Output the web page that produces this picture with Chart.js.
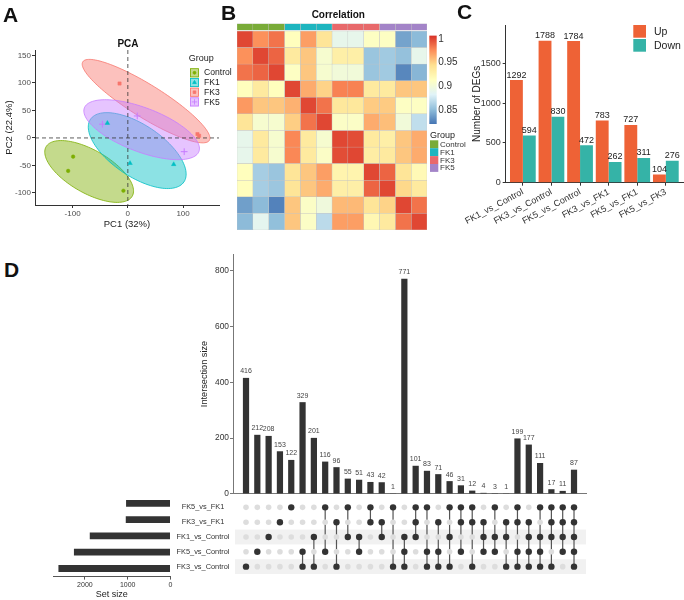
<!DOCTYPE html>
<html>
<head>
<meta charset="utf-8">
<script src="https://cdn.jsdelivr.net/npm/chart.js@4.4.1/dist/chart.umd.min.js"></script>
<style>
  body { margin: 0; background: #fff; }
  #fig { position: relative; width: 684px; height: 600px; overflow: hidden; background: #fff; }
  canvas { position: absolute; }
  .tag { position: absolute; font: bold 21px/1 'Liberation Sans', Arial, sans-serif; color: #111; }
</style>
</head>
<body>
<div id="fig">
  <canvas id="pca" width="240" height="235" style="left:0;top:0"></canvas>
  <canvas id="anno" width="190" height="31" style="left:237px;top:0"></canvas>
  <canvas id="heat" width="190" height="199" style="left:237px;top:31px"></canvas>
  <canvas id="cbar" width="50" height="150" style="left:425px;top:28px"></canvas>
  <canvas id="degs" width="229" height="240" style="left:455px;top:0"></canvas>
  <canvas id="inter" width="410" height="255" style="left:180px;top:245px"></canvas>
  <canvas id="matrix" width="420" height="90" style="left:170px;top:492px"></canvas>
  <canvas id="sets" width="140" height="108" style="left:40px;top:492px"></canvas>
  <div class="tag" style="left:3px;top:4px">A</div>
  <div class="tag" style="left:221px;top:2px">B</div>
  <div class="tag" style="left:457px;top:1px">C</div>
  <div class="tag" style="left:4px;top:259px">D</div>
</div>
<script>
// ---- panel A: PCA scores ----
const groups = ['Control', 'FK1', 'FK3', 'FK5'];
const pc1Control = [-99, -108, -8];
const pc2Control = [-34, -60, -96];
const pc1FK1 = [-37, 4, 83];
const pc2FK1 = [27, -46, -48];
const pc1FK3 = [-15, 129, 126];
const pc2FK3 = [99, 4, 7];
const pc1FK5 = [-46, 17, 102];
const pc2FK5 = [25, 40, -25];
// group ellipses in PC units: centre, semi-axes, tilt (deg)
const ellipseCx = [-70, 17, 33, 25];
const ellipseCy = [-61, -23, 67, 15];
const ellipseA = [90, 102, 135, 111];
const ellipseB = [39, 47, 30, 40];
const ellipseAngle = [-30, -34, -32, -21];

// ---- panel B: sample correlation ----
const samples = ['Control_1', 'Control_2', 'Control_3', 'FK1_1', 'FK1_2', 'FK1_3',
                 'FK3_1', 'FK3_2', 'FK3_3', 'FK5_1', 'FK5_2', 'FK5_3'];
const sampleGroup = [0, 0, 0, 1, 1, 1, 2, 2, 2, 3, 3, 3];
const corr = [
  [1.000, 0.975, 0.985, 0.915, 0.970, 0.940, 0.890, 0.890, 0.912, 0.912, 0.840, 0.850],
  [0.975, 1.000, 0.990, 0.935, 0.955, 0.905, 0.930, 0.930, 0.855, 0.858, 0.853, 0.890],
  [0.985, 0.990, 1.000, 0.912, 0.955, 0.905, 0.900, 0.900, 0.855, 0.858, 0.828, 0.848],
  [0.915, 0.935, 0.915, 1.000, 0.965, 0.950, 0.980, 0.980, 0.935, 0.935, 0.955, 0.955],
  [0.972, 0.955, 0.955, 0.963, 1.000, 0.985, 0.937, 0.937, 0.953, 0.953, 0.912, 0.912],
  [0.940, 0.905, 0.905, 0.952, 0.985, 1.000, 0.910, 0.910, 0.965, 0.958, 0.900, 0.870],
  [0.890, 0.935, 0.905, 0.978, 0.935, 0.905, 1.000, 0.998, 0.935, 0.930, 0.955, 0.965],
  [0.890, 0.935, 0.905, 0.978, 0.935, 0.910, 0.998, 1.000, 0.932, 0.935, 0.955, 0.965],
  [0.915, 0.860, 0.855, 0.940, 0.955, 0.970, 0.925, 0.925, 1.000, 0.990, 0.940, 0.920],
  [0.915, 0.860, 0.856, 0.940, 0.955, 0.965, 0.930, 0.930, 0.990, 1.000, 0.948, 0.935],
  [0.838, 0.850, 0.826, 0.955, 0.910, 0.898, 0.960, 0.960, 0.940, 0.950, 1.000, 0.985],
  [0.850, 0.888, 0.852, 0.955, 0.910, 0.868, 0.970, 0.970, 0.922, 0.935, 0.985, 1.000]
];
const corrMin = 0.8204, corrMax = 1.0076;
const corrTicks = [0.85, 0.9, 0.95, 1];

// ---- panel C: DEG counts ----
const comparisons = ['FK1_vs_Control', 'FK3_vs_Control', 'FK5_vs_Control', 'FK3_vs_FK1', 'FK5_vs_FK1', 'FK5_vs_FK3'];
const upDEGs = [1292, 1788, 1784, 783, 727, 104];
const downDEGs = [594, 830, 472, 262, 311, 276];

// ---- panel D: upset ----
const setNames = ['FK5_vs_FK1', 'FK3_vs_FK1', 'FK1_vs_Control', 'FK5_vs_Control', 'FK3_vs_Control'];
const setSizes = [1038, 1045, 1886, 2256, 2618];
const intersectionSizes = [416, 212, 208, 153, 122, 329, 201, 116, 96, 55, 51, 43, 42, 1, 771,
                           101, 83, 71, 46, 31, 12, 4, 3, 1, 199, 177, 111, 17, 11, 87];
// which sets (row index in setNames) make each intersection
const intersectionSets = [[4], [3], [2], [1], [0], [3, 4], [2, 4], [0, 3], [1, 4], [0, 2], [2, 3], [0, 1], [1, 2], [0, 4], [2, 3, 4],
  [0, 1, 2], [0, 3, 4], [1, 3, 4], [0, 2, 4], [0, 1, 3], [0, 1, 4], [1, 2, 3], [0, 2, 3], [1, 2, 4],
  [0, 1, 3, 4], [1, 2, 3, 4], [0, 2, 3, 4], [0, 1, 2, 4], [0, 1, 2, 3], [0, 1, 2, 3, 4]];

// ---------------------------------------------------------------
const FONT = "'Liberation Sans', Arial, sans-serif";
Chart.defaults.font.family = FONT;
Chart.defaults.color = '#333';

const groupColors = ['#7CAE00', '#00BFC4', '#F8766D', '#C77CFF'];
const annoColors = ['#79AB38', '#1EB5BF', '#E8696B', '#A384C8'];
const rampColors = ['#4575B4', '#91BFDB', '#E0F3F8', '#FFFFBF', '#FEE090', '#FC8D59', '#D73027'];
const upColor = '#EE6236', downColor = '#35B3A7';

function hexRgb(h) { const n = parseInt(h.slice(1), 16); return [n >> 16 & 255, n >> 8 & 255, n & 255]; }
function rgba(h, a) { return 'rgba(' + hexRgb(h).join(',') + ',' + a + ')'; }
function corrColor(v) {
  const f = Math.max(0, Math.min(1, (v - corrMin) / (corrMax - corrMin))) * 6;
  const i = Math.min(5, Math.floor(f)), t = f - i;
  const A = hexRgb(rampColors[i]), B = hexRgb(rampColors[i + 1]);
  return 'rgb(' + A.map((c, k) => Math.round(c + (B[k] - c) * t)).join(',') + ')';
}
function txt(ctx, s, x, y, font, color, align) {
  ctx.save();
  ctx.font = font; ctx.fillStyle = color || '#222';
  ctx.textAlign = align || 'left'; ctx.textBaseline = 'middle';
  ctx.fillText(s, x, y);
  ctx.restore();
}
const fixedTicks = vals => s => { s.ticks = vals.map(v => ({ value: v })); };
const plain = v => String(v);
const base = { responsive: false, animation: false, events: [],
  plugins: { legend: { display: false }, tooltip: { enabled: false } } };

// ================= A: PCA =================
const pcaX = [pc1Control, pc1FK1, pc1FK3, pc1FK5];
const pcaY = [pc2Control, pc2FK1, pc2FK3, pc2FK5];
const pointStyles = ['circle', 'triangle', 'rect', 'cross'];
const pointRadius = [1.8, 2.6, 2.3, 3.4];

const pcaDeco = {
  id: 'pcaDeco',
  beforeDatasetsDraw(chart) {
    const { ctx, chartArea: a, scales: { x, y } } = chart;
    ctx.save();
    groups.forEach((g, k) => {
      const th = ellipseAngle[k] * Math.PI / 180;
      ctx.beginPath();
      for (let t = 0; t <= 120; t++) {
        const u = t / 120 * 2 * Math.PI;
        const dx = ellipseA[k] * Math.cos(u), dy = ellipseB[k] * Math.sin(u);
        const px = x.getPixelForValue(ellipseCx[k] + dx * Math.cos(th) - dy * Math.sin(th));
        const py = y.getPixelForValue(ellipseCy[k] + dx * Math.sin(th) + dy * Math.cos(th));
        if (t) ctx.lineTo(px, py); else ctx.moveTo(px, py);
      }
      ctx.closePath();
      ctx.fillStyle = rgba(groupColors[k], 0.45);
      ctx.fill();
      ctx.strokeStyle = groupColors[k];
      ctx.lineWidth = 0.8;
      ctx.stroke();
    });
    // zero reference lines
    ctx.strokeStyle = '#333';
    ctx.lineWidth = 0.8;
    ctx.setLineDash([4, 3]);
    const x0 = x.getPixelForValue(0), y0 = y.getPixelForValue(0);
    ctx.beginPath();
    ctx.moveTo(x0, a.top); ctx.lineTo(x0, a.bottom);
    ctx.moveTo(a.left, y0); ctx.lineTo(a.right, y0);
    ctx.stroke();
    ctx.restore();
  },
  afterDraw(chart) {
    const ctx = chart.ctx;
    txt(ctx, 'PCA', 128, 44, 'bold 10px ' + FONT, '#111', 'center');
    txt(ctx, 'Group', 188.7, 59, '9px ' + FONT, '#222');
    groups.forEach((g, k) => {
      const top = 68.3 + k * 9.7;
      ctx.save();
      ctx.fillStyle = rgba(groupColors[k], 0.45);
      ctx.strokeStyle = groupColors[k];
      ctx.lineWidth = 0.8;
      ctx.fillRect(190, top, 9, 9);
      ctx.strokeRect(190.4, top + 0.4, 8.2, 8.2);
      ctx.fillStyle = groupColors[k];
      Chart.helpers.drawPoint(ctx, { pointStyle: pointStyles[k], radius: pointRadius[k] * 0.8, borderWidth: 1, rotation: 0 }, 194.5, top + 4.5);
      ctx.restore();
      txt(ctx, g, 204, top + 4.8, '8.6px ' + FONT, '#222');
    });
  }
};

new Chart(document.getElementById('pca'), {
  type: 'scatter',
  data: {
    datasets: groups.map((g, k) => ({
      label: g,
      data: pcaX[k].map((v, i) => ({ x: v, y: pcaY[k][i] })),
      pointStyle: pointStyles[k],
      pointRadius: pointRadius[k],
      backgroundColor: groupColors[k],
      borderColor: groupColors[k],
      borderWidth: k === 3 ? 1 : 0.5
    }))
  },
  options: Object.assign({}, base, {
    layout: { padding: { top: 50, right: 21 } },
    scales: {
      x: {
        type: 'linear', min: -168, max: 165,
        afterBuildTicks: fixedTicks([-100, 0, 100]),
        afterFit: s => { s.height = 30; },
        grid: { drawOnChartArea: false, tickLength: 3, color: '#333' },
        border: { color: '#333' },
        ticks: { font: { size: 8 }, color: '#4d4d4d', padding: 1, callback: plain },
        title: { display: true, text: 'PC1 (32%)', font: { size: 9.5 }, color: '#222', padding: { top: 0, bottom: 5 } }
      },
      y: {
        type: 'linear', min: -122, max: 160,
        afterBuildTicks: fixedTicks([-100, -50, 0, 50, 100, 150]),
        afterFit: s => { s.width = 35; },
        grid: { drawOnChartArea: false, tickLength: 3, color: '#333' },
        border: { color: '#333' },
        ticks: { font: { size: 8 }, color: '#4d4d4d', padding: 1, callback: plain },
        title: { display: true, text: 'PC2 (22.4%)', font: { size: 9.5 }, color: '#222', padding: { top: 4, bottom: 0 } }
      }
    }
  }),
  plugins: [pcaDeco]
});

// ================= B: correlation heatmap =================
new Chart(document.getElementById('anno'), {
  type: 'bar',
  data: {
    labels: ['Group'],
    datasets: samples.map((s, j) => ({
      label: s, data: [1],
      backgroundColor: annoColors[sampleGroup[j]],
      borderColor: '#C4C4C4', borderWidth: 0.5, borderSkipped: false,
      barPercentage: 1, categoryPercentage: 1
    }))
  },
  options: Object.assign({}, base, {
    indexAxis: 'y',
    layout: { padding: { top: 23.5, bottom: 0.5 } },
    scales: { x: { display: false, stacked: true, min: 0, max: samples.length }, y: { display: false, stacked: true } }
  }),
  plugins: [{
    id: 'corrTitle',
    afterDraw(chart) { txt(chart.ctx, 'Correlation', 101.3, 15.7, 'bold 10px ' + FONT, '#111', 'center'); }
  }]
});

new Chart(document.getElementById('heat'), {
  type: 'bar',
  data: {
    labels: samples,
    datasets: samples.map((s, j) => ({
      label: s,
      data: samples.map(() => 1),
      backgroundColor: corr.map(row => corrColor(row[j])),
      borderColor: '#C4C4C4', borderWidth: 0.5, borderSkipped: false,
      barPercentage: 1, categoryPercentage: 1
    }))
  },
  options: Object.assign({}, base, {
    indexAxis: 'y',
    scales: { x: { display: false, stacked: true, min: 0, max: samples.length }, y: { display: false, stacked: true } }
  })
});

new Chart(document.getElementById('cbar'), {
  type: 'bar',
  data: {
    labels: [''],
    datasets: [{
      data: [[corrMin, corrMax]],
      barPercentage: 1, categoryPercentage: 1, borderWidth: 0,
      backgroundColor: c => {
        const a = c.chart.chartArea;
        if (!a) return rampColors[3];
        const g = c.chart.ctx.createLinearGradient(0, a.bottom, 0, a.top);
        rampColors.forEach((col, i) => g.addColorStop(i / 6, col));
        return g;
      }
    }]
  },
  options: Object.assign({}, base, {
    layout: { padding: { left: 4.3, top: 4.3, bottom: 54 } },
    scales: {
      x: { display: false },
      y: {
        position: 'right', min: corrMin, max: corrMax,
        afterBuildTicks: fixedTicks(corrTicks),
        afterFit: s => { s.width = 38.3; },
        grid: { display: false, drawTicks: false }, border: { display: false },
        ticks: { font: { size: 10 }, color: '#333', padding: 1.5, callback: plain }
      }
    }
  }),
  plugins: [{
    id: 'groupLegend',
    afterDraw(chart) {
      const ctx = chart.ctx;
      txt(ctx, 'Group', 5, 107.5, '9px ' + FONT, '#222');
      groups.forEach((g, k) => {
        const top = 112.3 + k * 7.9;
        ctx.fillStyle = annoColors[k];
        ctx.fillRect(5, top, 8.3, 7.9);
        txt(ctx, g, 15, top + 4.2, '8px ' + FONT, '#333');
      });
    }
  }]
});

// ================= C: DEG bars =================
new Chart(document.getElementById('degs'), {
  type: 'bar',
  data: {
    datasets: [
      { label: 'Up', data: upDEGs.map((v, i) => ({ x: i + 1, y: v })), backgroundColor: upColor },
      { label: 'Down', data: downDEGs.map((v, i) => ({ x: i + 1, y: v })), backgroundColor: downColor }
    ]
  },
  options: Object.assign({}, base, {
    layout: { padding: { top: 25, right: 1 } },
    datasets: { bar: { categoryPercentage: 0.9, barPercentage: 1 } },
    scales: {
      x: {
        type: 'linear', min: 0.4, max: 6.6, offset: false,
        afterBuildTicks: fixedTicks(comparisons.map((c, i) => i + 1)),
        afterFit: s => { s.height = 57.3; },
        grid: { drawOnChartArea: false, tickLength: 3, color: '#333', offset: false },
        border: { color: '#333' },
        ticks: { callback: v => comparisons[v - 1], autoSkip: false, minRotation: 28, maxRotation: 28,
                 font: { size: 9 }, color: '#333', padding: 1 }
      },
      y: {
        min: 0, max: 1986,
        afterBuildTicks: fixedTicks([0, 500, 1000, 1500]),
        afterFit: s => { s.width = 50.7; },
        grid: { drawOnChartArea: false, tickLength: 3, color: '#333' },
        border: { color: '#333' },
        ticks: { font: { size: 9 }, color: '#333', padding: 2, callback: plain },
        title: { display: true, text: 'Number of DEGs', font: { size: 10 }, color: '#222', padding: { top: 16 } }
      }
    }
  }),
  plugins: [{
    id: 'degLabels',
    afterDatasetsDraw(chart) {
      const ctx = chart.ctx;
      [upDEGs, downDEGs].forEach((vals, d) => {
        chart.getDatasetMeta(d).data.forEach((el, i) => {
          ctx.save();
          ctx.font = '9px ' + FONT; ctx.fillStyle = '#222';
          ctx.textAlign = 'center'; ctx.textBaseline = 'bottom';
          ctx.fillText(vals[i], el.x, el.y - 0.5);
          ctx.restore();
        });
      });
    },
    afterDraw(chart) {
      const ctx = chart.ctx;
      ctx.fillStyle = upColor; ctx.fillRect(178.3, 25, 12.7, 12.7);
      ctx.fillStyle = downColor; ctx.fillRect(178.3, 39, 12.7, 12.7);
      txt(ctx, 'Up', 199, 32, '10.5px ' + FONT, '#222');
      txt(ctx, 'Down', 199, 46, '10.5px ' + FONT, '#222');
    }
  }]
});

// ================= D: upset =================
const colMin = -1.15, colMax = 30.06;

new Chart(document.getElementById('inter'), {
  type: 'bar',
  data: {
    datasets: [{
      data: intersectionSizes.map((v, i) => ({ x: i, y: v })),
      backgroundColor: '#333', barPercentage: 0.55, categoryPercentage: 1
    }]
  },
  options: Object.assign({}, base, {
    layout: { padding: { top: 9, right: 4 } },
    scales: {
      x: {
        type: 'linear', min: colMin, max: colMax, offset: false,
        ticks: { display: false }, grid: { display: false, drawTicks: false },
        border: { color: '#777' },
        afterFit: s => { s.height = 6; }
      },
      y: {
        min: 0, max: 860,
        afterBuildTicks: fixedTicks([0, 200, 400, 600, 800]),
        afterFit: s => { s.width = 53; },
        grid: { drawOnChartArea: false, tickLength: 3, color: '#777' },
        border: { color: '#777' },
        ticks: { font: { size: 8.4 }, color: '#333', padding: 1, callback: plain },
        title: { display: true, text: 'Intersection size', font: { size: 9.2 }, color: '#222', padding: { top: 19 } }
      }
    }
  }),
  plugins: [{
    id: 'interLabels',
    afterDatasetsDraw(chart) {
      const ctx = chart.ctx;
      chart.getDatasetMeta(0).data.forEach((el, i) => {
        ctx.save();
        ctx.font = '7px ' + FONT; ctx.fillStyle = '#444';
        ctx.textAlign = 'center'; ctx.textBaseline = 'bottom';
        ctx.fillText(intersectionSizes[i], el.x, el.y - 3);
        ctx.restore();
      });
    }
  }]
});

const memberDots = [], otherDots = [], links = [];
intersectionSets.forEach((rows, i) => {
  setNames.forEach((s, r) => (rows.includes(r) ? memberDots : otherDots).push({ x: i, y: r }));
  if (rows.length > 1) {
    links.push({
      type: 'line', data: [{ x: i, y: Math.min(...rows) }, { x: i, y: Math.max(...rows) }],
      borderColor: '#555', borderWidth: 1.2, pointRadius: 0, showLine: true
    });
  }
});

new Chart(document.getElementById('matrix'), {
  type: 'scatter',
  data: {
    datasets: [
      { data: memberDots, pointRadius: 3.2, backgroundColor: '#333', borderWidth: 0 },
      { data: otherDots, pointRadius: 2.8, backgroundColor: '#DDDDDD', borderWidth: 0 }
    ].concat(links)
  },
  options: Object.assign({}, base, {
    layout: { padding: { top: 3.2, right: 4, bottom: 5.4 } },
    scales: {
      x: { type: 'linear', display: false, min: colMin, max: colMax },
      y: {
        type: 'linear', min: -0.5, max: 4.5, reverse: true,
        afterBuildTicks: fixedTicks([0, 1, 2, 3, 4]),
        afterFit: s => { s.width = 63; },
        grid: { display: false, drawTicks: false }, border: { display: false },
        ticks: { callback: v => setNames[v], crossAlign: 'center', padding: 3.5, font: { size: 7.4 }, color: '#333' }
      }
    }
  }),
  plugins: [{
    id: 'bands',
    beforeDatasetsDraw(chart) {
      const { ctx, chartArea: a, scales: { y } } = chart;
      ctx.save();
      ctx.fillStyle = '#F1F1F1';
      [2, 4].forEach(r => {
        const t = y.getPixelForValue(r - 0.5), b = y.getPixelForValue(r + 0.5);
        ctx.fillRect(a.left + 2, t, a.right - a.left - 2, b - t);
      });
      ctx.restore();
    }
  }]
});

new Chart(document.getElementById('sets'), {
  type: 'bar',
  data: {
    labels: setNames,
    datasets: [{ data: setSizes, backgroundColor: '#333', barPercentage: 0.42, categoryPercentage: 1 }]
  },
  options: Object.assign({}, base, {
    indexAxis: 'y',
    layout: { padding: { left: 13, right: 9.5, top: 3.2 } },
    scales: {
      x: {
        min: 0, max: 2745, reverse: true,
        afterBuildTicks: fixedTicks([0, 1000, 2000]),
        afterFit: s => { s.height = 23.4; },
        grid: { drawOnChartArea: false, tickLength: 3, color: '#555' },
        border: { color: '#555' },
        ticks: { font: { size: 7 }, color: '#333', padding: 1, callback: plain },
        title: { display: true, text: 'Set size', font: { size: 9 }, color: '#222', padding: { top: 0, bottom: 0.5 } }
      },
      y: { display: false }
    }
  })
});
</script>
</body>
</html>
